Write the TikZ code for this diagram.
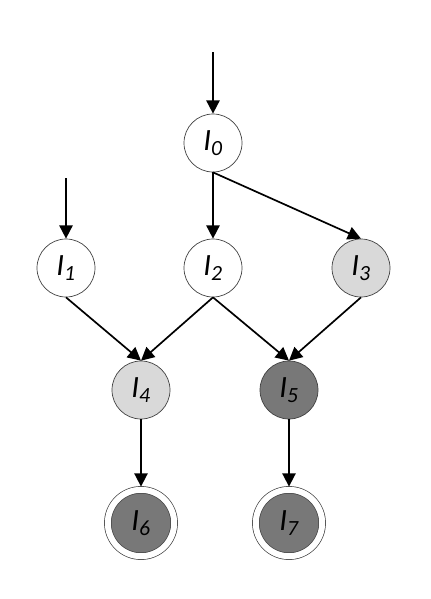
\documentclass[tikz,border=0pt]{standalone}
\usepackage{fontspec}
\setmainfont{Carlito}
\usetikzlibrary{arrows.meta}
\definecolor{lightstate}{RGB}{217,217,217}
\definecolor{darkstate}{RGB}{120,120,120}

\begin{document}
\begin{tikzpicture}[x=0.25mm,y=-0.25mm,
    state/.style={circle,draw=black!75,line width=0.5pt,fill=white,minimum size=14.5mm,inner sep=0pt,
        font=\fontsize{22}{26}\selectfont\itshape},
    final/.style={state,double=white,double distance=1.5mm,minimum size=16.6mm,outer sep=0.8mm},
    edge/.style={line width=1.2pt,-{Triangle[length=3.3mm,width=3.3mm]}}]
            \useasboundingbox (0,0) rectangle (430,599);

            \node[state] (I0) at (213,143) {I\textsubscript{0}};
            \node[state] (I1) at (66,268) {I\textsubscript{1}};
            \node[state] (I2) at (213,268) {I\textsubscript{2}};
            \node[state,fill=lightstate] (I3) at (361,268) {I\textsubscript{3}};
            \node[state,fill=lightstate] (I4) at (141,390) {I\textsubscript{4}};
            \node[state,fill=darkstate] (I5) at (289,390) {I\textsubscript{5}};
            \node[final,fill=darkstate] (I6) at (141,523) {I\textsubscript{6}};
            \node[final,fill=darkstate] (I7) at (289,523) {I\textsubscript{7}};

            \coordinate (in0) at (213,52);
            \coordinate (in1) at (66,178);

            \draw[edge] (in0) -- (I0);
            \draw[edge] (in1) -- (I1);

            \draw[edge] (I0.south) -- (I2);
            \draw[edge] (I0.south) -- (I3.north);

            \draw[edge] (I1.south) -- (I4.north);
            \draw[edge] (I2.south) -- (I4.north);
            \draw[edge] (I2.south) -- (I5.north);
            \draw[edge] (I3.south) -- (I5.north);

            \draw[edge] (I4) -- (I6);
            \draw[edge] (I5) -- (I7);
        \end{tikzpicture}
\end{document}
